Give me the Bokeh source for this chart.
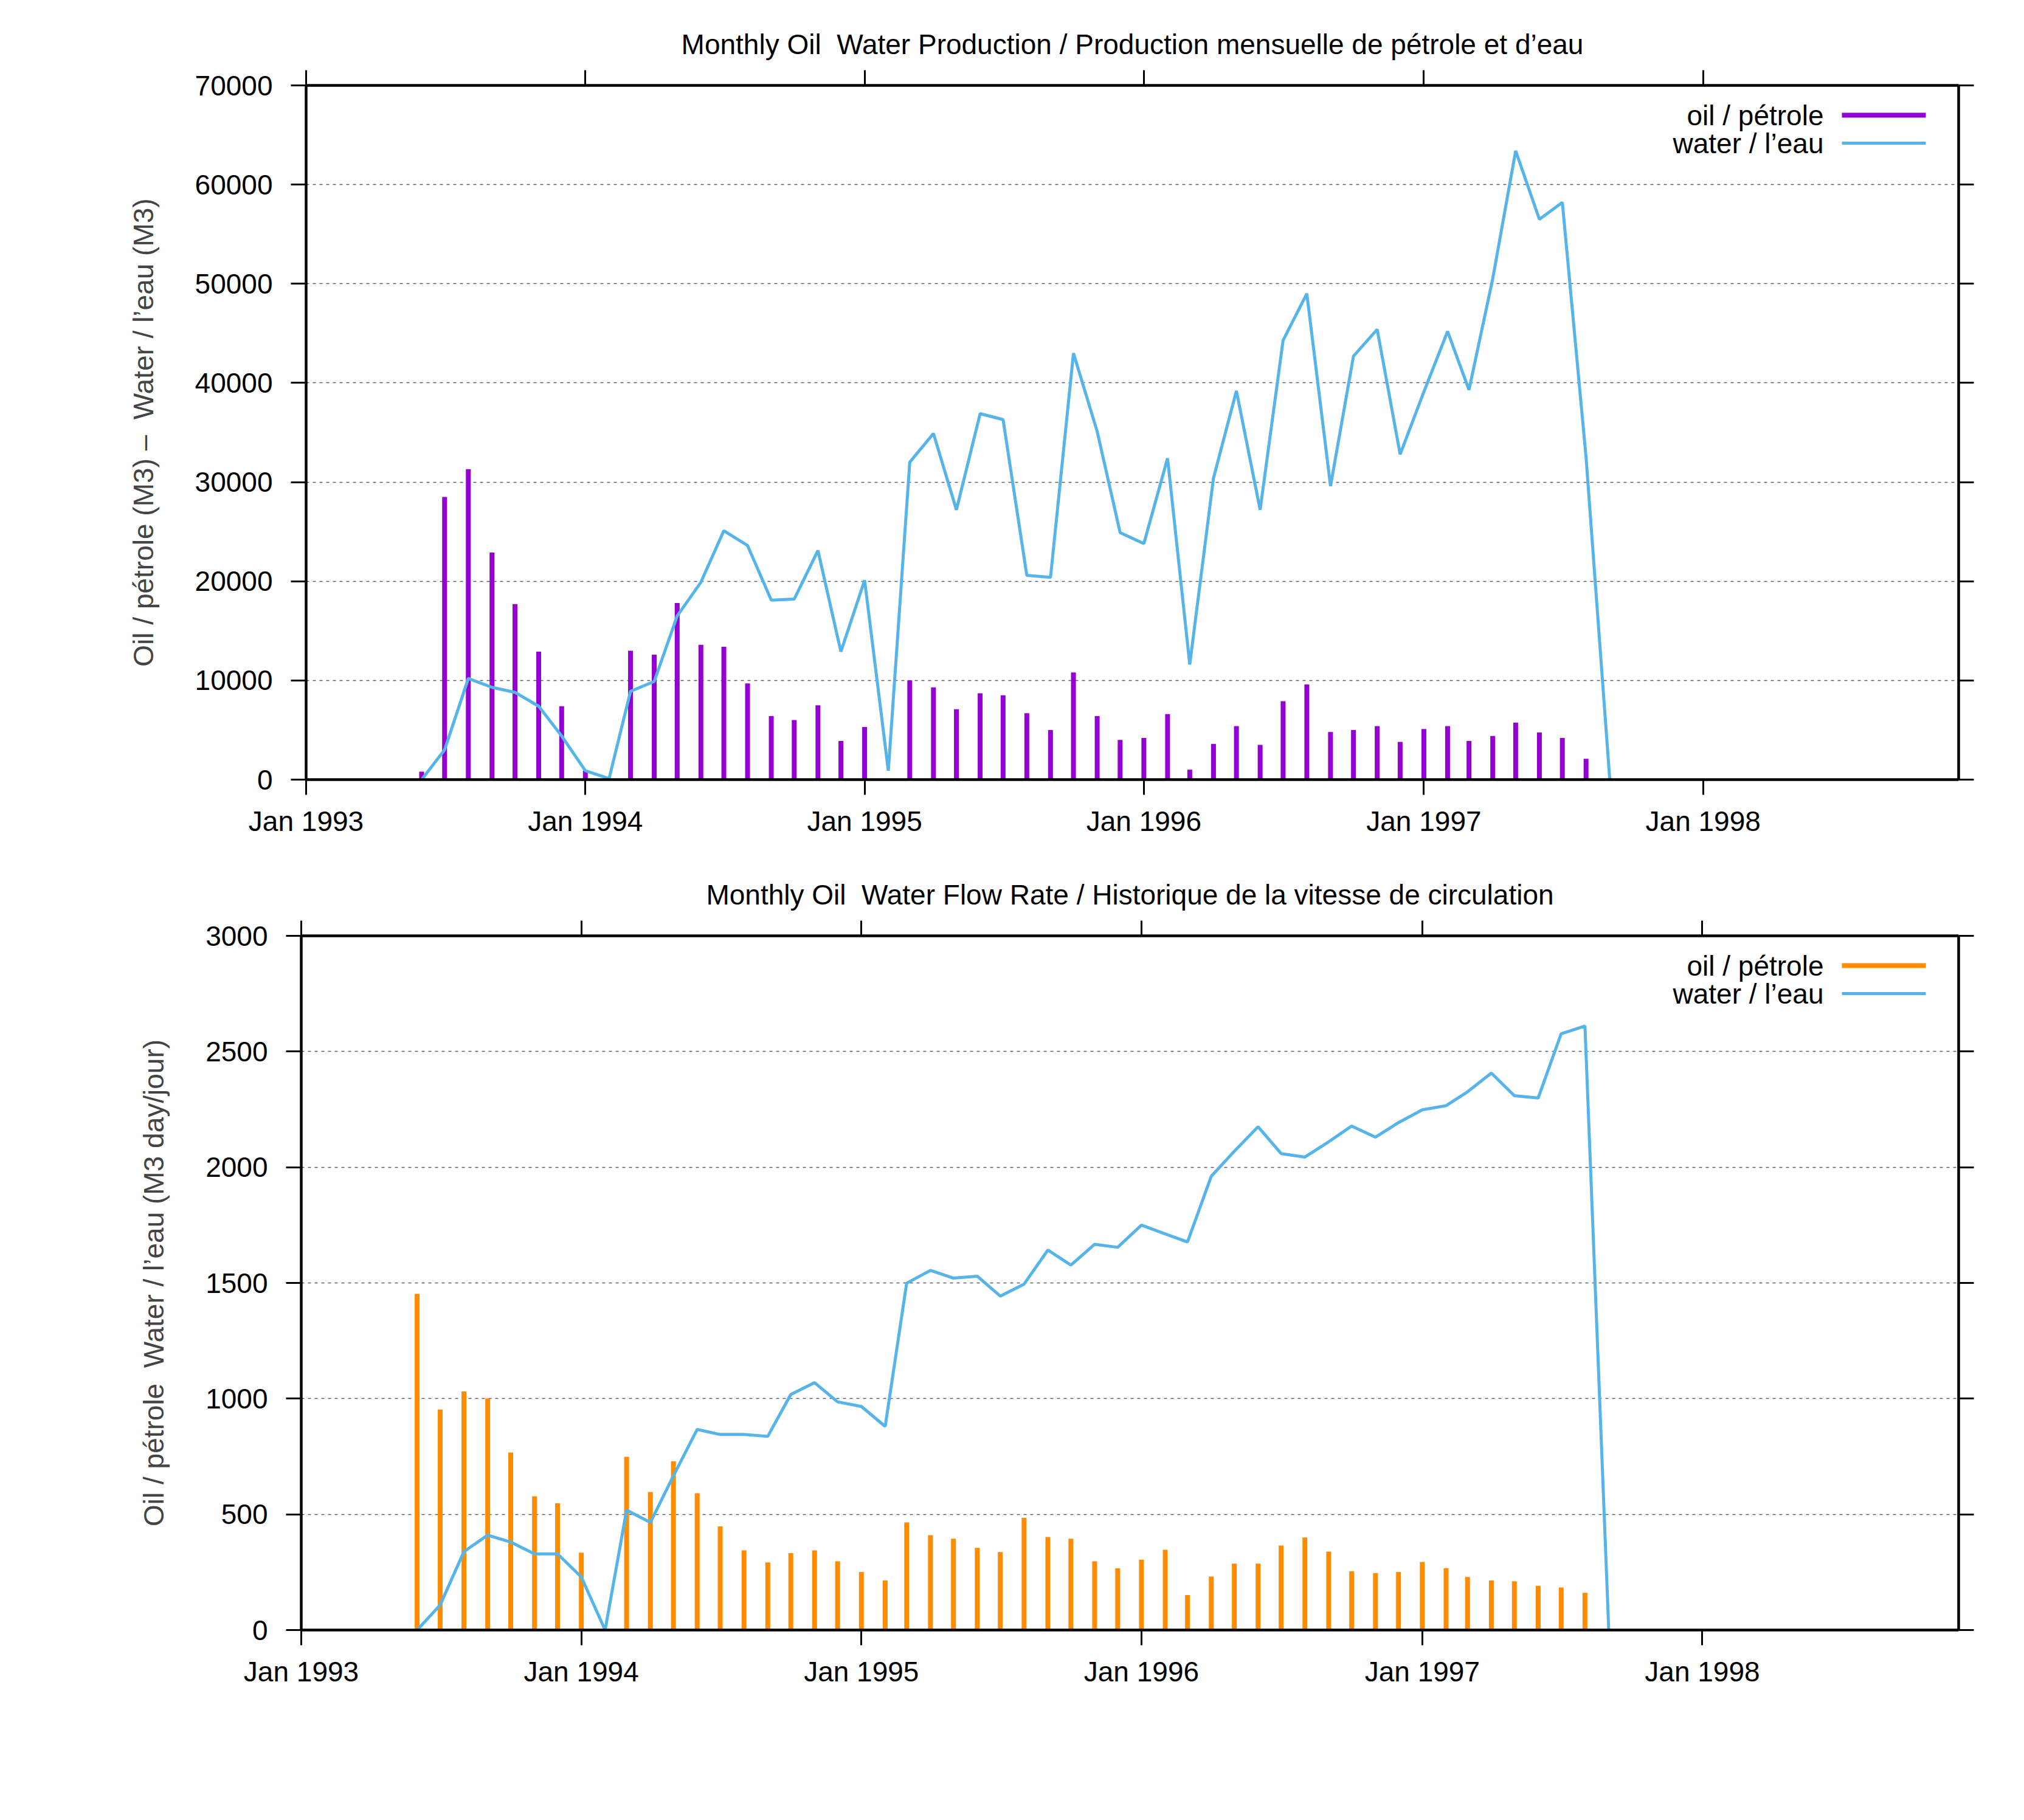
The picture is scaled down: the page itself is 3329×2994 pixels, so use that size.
import pandas as pd
from bokeh.core.properties import value
from bokeh.embed import file_html
from bokeh.layouts import column
from bokeh.models import (CustomJSTickFormatter, DatetimeAxis, DatetimeTickFormatter,
                          FixedTicker, LinearAxis, NumeralTickFormatter, Range1d)
from bokeh.plotting import figure
from bokeh.resources import INLINE

# months Jun 1993 .. Sep 1997 (oil has no entry for the last one)
months = pd.date_range("1993-06-01", "1997-09-01", freq="MS")
oil_months = months[:-1]

# monthly production, M3
oil_volume = [800, 28500, 31300, 22900, 17700, 12900, 7400,
              900, 0, 13000, 12600, 17800, 13600, 13400, 9700, 6400, 6000, 7500, 3900,
              5300, 0, 10000, 9300, 7100, 8700, 8500, 6700, 5000, 10800, 6400, 4000,
              4200, 6600, 1000, 3600, 5400, 3500, 7900, 9600, 4800, 5000, 5400, 3800,
              5100, 5400, 3900, 4400, 5750, 4750, 4200, 2100]
water_volume = [0, 3000, 10200, 9300, 8800, 7400, 4400,
                900, 100, 8900, 9900, 16500, 19900, 25100, 23600, 18100, 18200, 23100, 12900,
                20100, 900, 32000, 34900, 27200, 36900, 36300, 20600, 20400, 43000, 35100, 24900,
                23800, 32400, 11600, 30400, 39200, 27200, 44300, 49000, 29600, 42700, 45400, 32800,
                39100, 45200, 39300, 50500, 63400, 56500, 58200, 32500, 0]

# flow rate, M3 day/jour
oil_rate = [1453, 953, 1031, 1001, 767, 578, 548,
            334, 0, 749, 596, 729, 591, 448, 344, 292, 332, 344, 297,
            251, 214, 465, 410, 395, 355, 337, 485, 402, 395, 297, 267,
            304, 347, 151, 231, 287, 287, 365, 400, 339, 254, 246, 251,
            294, 267, 229, 214, 211, 191, 184, 161]
water_rate = [0, 108, 339, 410, 380, 329, 329,
              229, 0, 518, 465, 666, 867, 845, 845, 837, 1018, 1069, 986,
              966, 880, 1499, 1554, 1521, 1529, 1443, 1495, 1642, 1577, 1667, 1654,
              1750, 1712, 1677, 1961, 2069, 2175, 2059, 2044, 2110, 2178, 2130, 2193,
              2248, 2266, 2326, 2407, 2309, 2299, 2577, 2610, 0]

year_ticks = ["1993-01-01", "1994-01-01", "1995-01-01", "1996-01-01", "1997-01-01", "1998-01-01"]
volume_ticks = [0, 10000, 20000, 30000, 40000, 50000, 60000, 70000]
rate_ticks = [0, 500, 1000, 1500, 2000, 2500, 3000]
legend_labels = ["oil / pétrole", "water / l’eau"]

FONT = "Liberation Sans"
SIZE = "46px"
WATER = "#56b4e9"
X_START = pd.Timestamp("1993-01-01")
X_END = pd.Timestamp("1998-12-01")
FRAME_H = 1142

year_ms = [pd.Timestamp(t).value / 1e6 for t in year_ticks]


def style_axis(ax, labels=True):
    ax.axis_line_width = 4.5
    ax.axis_line_color = "black"
    ax.major_tick_in = 0
    ax.major_tick_out = 25
    ax.major_tick_line_width = 3
    ax.major_tick_line_color = "black"
    ax.minor_tick_line_color = None
    ax.major_label_text_font = FONT
    ax.major_label_text_font_size = SIZE
    ax.major_label_text_color = "black"
    if not labels:
        ax.formatter = CustomJSTickFormatter(code="return ''")
        ax.major_label_text_font_size = "1px"
        ax.major_label_standoff = 0


def make_panel(title, ylabel, ymax, yticks, oil, water, oil_color, top, bottom, fw):
    p = figure(x_axis_type="datetime", x_range=Range1d(X_START, X_END),
               y_range=Range1d(0, ymax), frame_width=fw, frame_height=FRAME_H,
               min_border_left=495, min_border_right=100, min_border_top=top,
               min_border_bottom=bottom, toolbar_location=None, output_backend="svg",
               title=title)
    p.outline_line_color = None
    p.background_fill_color = "white"
    p.border_fill_color = "white"

    p.title.align = "center"
    p.title.text_font = FONT
    p.title.text_font_size = SIZE
    p.title.text_font_style = "normal"
    p.title.text_color = "black"
    p.title.standoff = 33

    xax = p.below[0]
    style_axis(xax)
    xax.ticker = FixedTicker(ticks=year_ms)
    xax.formatter = DatetimeTickFormatter(years="%b %Y", months="%b %Y", days="%b %Y")
    xax.major_label_standoff = 17

    yax = p.left[0]
    style_axis(yax)
    yax.ticker = FixedTicker(ticks=yticks)
    yax.formatter = NumeralTickFormatter(format="0")
    yax.major_label_standoff = 30
    yax.axis_label = ylabel
    yax.axis_label_text_font = FONT
    yax.axis_label_text_font_size = SIZE
    yax.axis_label_text_font_style = "normal"
    yax.axis_label_standoff = 56

    right = LinearAxis(ticker=FixedTicker(ticks=yticks))
    style_axis(right, labels=False)
    p.add_layout(right, "right")
    top_ax = DatetimeAxis(ticker=FixedTicker(ticks=year_ms))
    style_axis(top_ax, labels=False)
    p.add_layout(top_ax, "above")

    p.xgrid.visible = False
    p.ygrid.ticker = FixedTicker(ticks=yticks)
    p.ygrid.grid_line_color = "#333333"
    p.ygrid.grid_line_alpha = 0.8
    p.ygrid.grid_line_width = 1.5
    p.ygrid.grid_line_dash = "5 6"

    p.segment(x0=oil_months, y0=0, x1=oil_months, y1=oil, line_width=8, line_color=oil_color)
    p.line(months, water, line_width=5, line_color=WATER)

    # legend in the top right corner: label first, then the line sample
    ms_per_px = (X_END - X_START).total_seconds() * 1000 / fw
    end_ms = X_END.value / 1e6
    rows = [ymax - 49 * ymax / FRAME_H, ymax - 95 * ymax / FRAME_H]
    p.text(x=[end_ms - 222 * ms_per_px] * 2, y=rows, text=legend_labels,
           text_align="right", text_baseline="middle", text_font=value(FONT),
           text_font_size=value(SIZE), text_color="black")
    x0 = end_ms - 192 * ms_per_px
    x1 = end_ms - 54 * ms_per_px
    p.segment(x0=[x0], y0=[rows[0]], x1=[x1], y1=[rows[0]], line_width=8, line_color=oil_color)
    p.segment(x0=[x0], y0=[rows[1]], x1=[x1], y1=[rows[1]], line_width=5, line_color=WATER)
    return p


p1 = make_panel("Monthly Oil \u00a0Water Production / Production mensuelle de pétrole et d’eau",
                "Oil / pétrole (M3) – \u00a0Water / l’eau (M3)",
                70000, volume_ticks, oil_volume, water_volume, "#9400d3",
                top=140, bottom=130, fw=2718)
p2 = make_panel("Monthly Oil \u00a0Water Flow Rate / Historique de la vitesse de circulation",
                "Oil / pétrole \u00a0Water / l’eau (M3 day/jour)",
                3000, rate_ticks, oil_rate, water_rate, "#ff8c00",
                top=127, bottom=150, fw=2726)
# the column lines the frames up; the upper chart sits 8px further right
p1.margin = (0, 0, 0, 8)

layout = column(p1, p2)
open("out.html", "w").write(file_html(layout, INLINE))
